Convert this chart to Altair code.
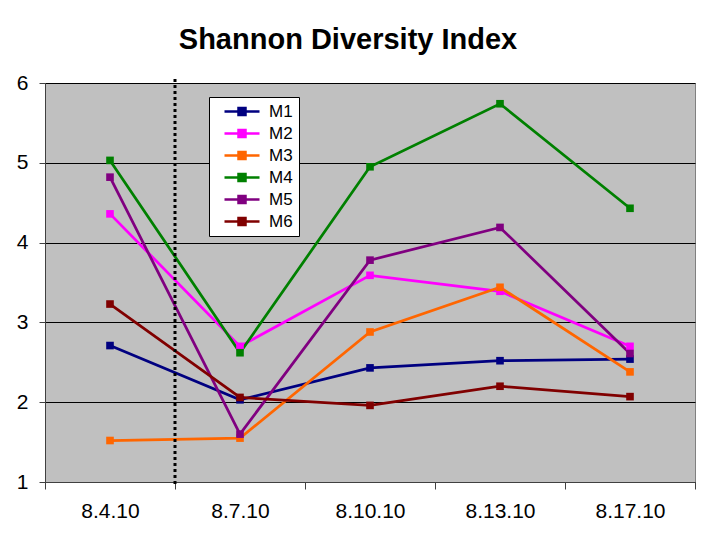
import altair as alt
import pandas as pd

dates = ["8.4.10", "8.7.10", "8.10.10", "8.13.10", "8.17.10"]
series = ["M1", "M2", "M3", "M4", "M5", "M6"]
m1 = [2.71, 2.03, 2.43, 2.52, 2.54]
m2 = [4.36, 2.70, 3.59, 3.39, 2.70]
m3 = [1.52, 1.55, 2.88, 3.44, 2.38]
m4 = [5.03, 2.62, 4.95, 5.74, 4.43]
m5 = [4.82, 1.60, 3.78, 4.19, 2.61]
m6 = [3.23, 2.06, 1.96, 2.20, 2.07]
colors = ["#000080", "#FF00FF", "#FF6600", "#008000", "#800080", "#800000"]
y_ticks = [1, 2, 3, 4, 5, 6]
divider_date = ["8.7.10"]

rows = []
for name, vals in zip(series, [m1, m2, m3, m4, m5, m6]):
    for d, v in zip(dates, vals):
        rows.append({"date": d, "series": name, "value": v})
df = pd.DataFrame(rows)

FONT = "Liberation Sans"

xscale = alt.Scale(type="band", domain=dates, paddingInner=0, paddingOuter=0)
yscale = alt.Scale(domain=[1, 6], nice=False, zero=False)

x_axis = alt.Axis(
    title=None, labelAngle=0, labelFont=FONT, labelFontSize=21, labelColor="black",
    tickSize=7, tickColor="#404040", domainColor="#404040", tickBand="extent",
    labelPadding=11, grid=False, tickWidth=1, domainWidth=1,
)
y_axis = alt.Axis(
    title=None, values=y_ticks, labelFont=FONT, labelFontSize=21, labelColor="black",
    tickSize=6, tickColor="#404040", domainColor="#404040", grid=True,
    gridColor="#000000", gridWidth=1, labelPadding=11, tickWidth=1, domainWidth=1,
)

legend = alt.Legend(
    title=None, orient="none", legendX=164, legendY=14,
    fillColor="white", strokeColor="black", padding=6, cornerRadius=0,
    labelFont=FONT, labelFontSize=17, labelColor="black",
    symbolType="M-3.5,0H3.5M-0.7,-0.7H0.7V0.7H-0.7Z", symbolSize=100,
    symbolStrokeWidth=2.5, symbolOffset=18.5, labelOffset=18.5, rowPadding=4,
)

x_enc = alt.X("date:N", scale=xscale, sort=dates, bandPosition=0.5, axis=x_axis)
y_enc = alt.Y("value:Q", scale=yscale, axis=y_axis)
c_enc = alt.Color("series:N", scale=alt.Scale(domain=series, range=colors), legend=legend)

lines = alt.Chart(df).mark_line(strokeWidth=2.75).encode(x=x_enc, y=y_enc, color=c_enc)
points = alt.Chart(df).mark_square(size=58, filled=True, opacity=1).encode(
    x=x_enc, y=y_enc, color=c_enc
)
divider = alt.Chart(pd.DataFrame({"date": divider_date})).mark_rule(
    strokeDash=[3, 3], strokeWidth=3, color="black"
).encode(
    x=alt.X("date:N", scale=xscale, sort=dates, bandPosition=0, axis=x_axis),
    y=alt.value(-4), y2=alt.value(403),
)

chart = alt.layer(lines, points, divider).properties(
    width=650, height=399,
    title=alt.Title("Shannon Diversity Index", fontSize=29, fontWeight="bold",
                    font=FONT, color="black", offset=17, anchor="middle", dx=-22),
    autosize=alt.AutoSizeParams(type="none"),
    padding={"left": 37, "top": 75, "right": 1, "bottom": 50},
).configure_view(fill="#C0C0C0", stroke="#808080", strokeWidth=1)

chart.save("out.html", embed_options={"renderer": "svg", "actions": False})
